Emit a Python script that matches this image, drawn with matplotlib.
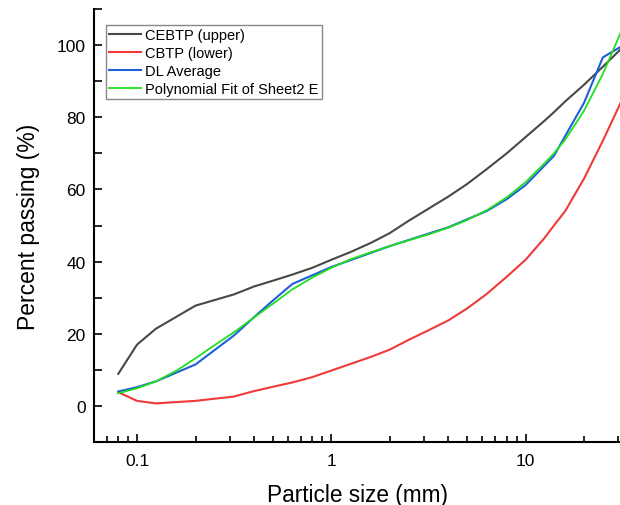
"""Grading curves: CEBTP envelope vs DL average"""

import matplotlib
matplotlib.use("Agg")
import matplotlib.pyplot as plt
from matplotlib.ticker import FixedLocator, LogLocator, NullFormatter, FuncFormatter

plt.rcParams["font.family"] = ["Liberation Sans", "DejaVu Sans"]

# sieve sizes (mm)
sizes_upper = [0.08, 0.1, 0.125, 0.2, 0.315, 0.4, 0.5, 0.63, 0.8, 1, 1.25, 1.6, 2,
               2.5, 3.15, 4, 5, 6.3, 8, 10, 12.5, 14, 16, 20, 25, 31.5]
cebtp_upper = [8.9, 17.0, 21.4, 27.8, 30.9, 33.1, 34.7, 36.4, 38.3, 40.5, 42.6, 45.2, 47.9,
               51.3, 54.6, 58.0, 61.5, 65.6, 70.0, 74.5, 79.0, 81.4, 84.4, 89.0, 94.0, 99.3]
cbtp_lower = [3.8, 1.4, 0.7, 1.4, 2.6, 4.1, 5.3, 6.5, 8.0, 9.8, 11.6, 13.6, 15.6,
              18.3, 20.9, 23.7, 27.0, 31.0, 35.8, 40.5, 46.5, 50.0, 54.0, 63.0, 73.5, 85.0]

sizes_dl = [0.08, 0.1, 0.125, 0.2, 0.315, 0.4, 0.5, 0.63, 1, 2, 4, 6.3, 8, 10, 14, 20, 25, 31.5]
dl_average = [4.0, 5.2, 6.8, 11.5, 19.5, 24.6, 29.2, 33.8, 38.5, 44.3, 49.5, 54.0, 57.3,
              61.2, 69.3, 84.0, 96.6, 99.8]

sizes_fit = [0.08, 0.1, 0.125, 0.16, 0.2, 0.25, 0.315, 0.4, 0.5, 0.63, 0.8, 1, 1.25, 1.6,
             2, 2.5, 3.15, 4, 5, 6.3, 8, 10, 12.5, 14, 16, 20, 25, 31.5]
poly_fit = [3.5, 4.9, 6.8, 9.8, 13.2, 16.8, 20.4, 24.5, 28.3, 32.3, 35.6, 38.3, 40.6, 42.6,
            44.3, 45.9, 47.5, 49.4, 51.5, 54.2, 57.8, 62.0, 67.2, 70.0, 73.8, 81.8, 92.0, 104.5]

fig = plt.figure(figsize=(6.2, 5.06), dpi=100)
ax = fig.add_axes([0.1516, 0.1245, 0.85, 0.8557])

ax.plot(sizes_upper, cebtp_upper, color="#484848", lw=1.5, label="CEBTP (upper)")
ax.plot(sizes_upper, cbtp_lower, color="#f03a3a", lw=1.5, label="CBTP (lower)")
ax.plot(sizes_dl, dl_average, color="#1f5fd8", lw=1.5, label="DL Average")
ax.plot(sizes_fit, poly_fit, color="#1fe01f", lw=1.3, label="Polynomial Fit of Sheet2 E")

ax.set_xscale("log")
ax.set_xlim(0.06, 31.0)
ax.set_ylim(-10, 110)

ax.xaxis.set_major_locator(FixedLocator([0.1, 1, 10]))
ax.xaxis.set_major_formatter(FuncFormatter(lambda v, p: f"{v:g}"))
ax.xaxis.set_minor_locator(LogLocator(base=10, subs=range(2, 10), numticks=20))
ax.xaxis.set_minor_formatter(NullFormatter())
ax.set_yticks([0, 20, 40, 60, 80, 100])
ax.set_yticks(range(-10, 111, 10), minor=True)

ax.tick_params(which="both", direction="in", width=1.2, labelsize=12.5, colors="black")
ax.tick_params(which="major", length=6)
ax.tick_params(which="minor", length=4)
ax.tick_params(axis="y", which="minor", length=6)
ax.tick_params(axis="x", pad=8)
ax.tick_params(axis="y", pad=6)

for side in ["top", "right"]:
    ax.spines[side].set_visible(False)
for side in ["left", "bottom"]:
    ax.spines[side].set_linewidth(1.5)

ax.set_xlabel("Particle size (mm)", fontsize=16.3, labelpad=11)
ax.set_ylabel("Percent passing (%)", fontsize=16.5, labelpad=12)

leg = ax.legend(loc="upper left", bbox_to_anchor=(0.023, 0.963), fontsize=10.5,
                frameon=True, fancybox=False, edgecolor="#888888", framealpha=1,
                handlelength=2.2, handletextpad=0.3, labelspacing=0.28, borderpad=0.2,
                borderaxespad=0)
leg.get_frame().set_linewidth(1.0)

fig.savefig("out.png", dpi=100)
